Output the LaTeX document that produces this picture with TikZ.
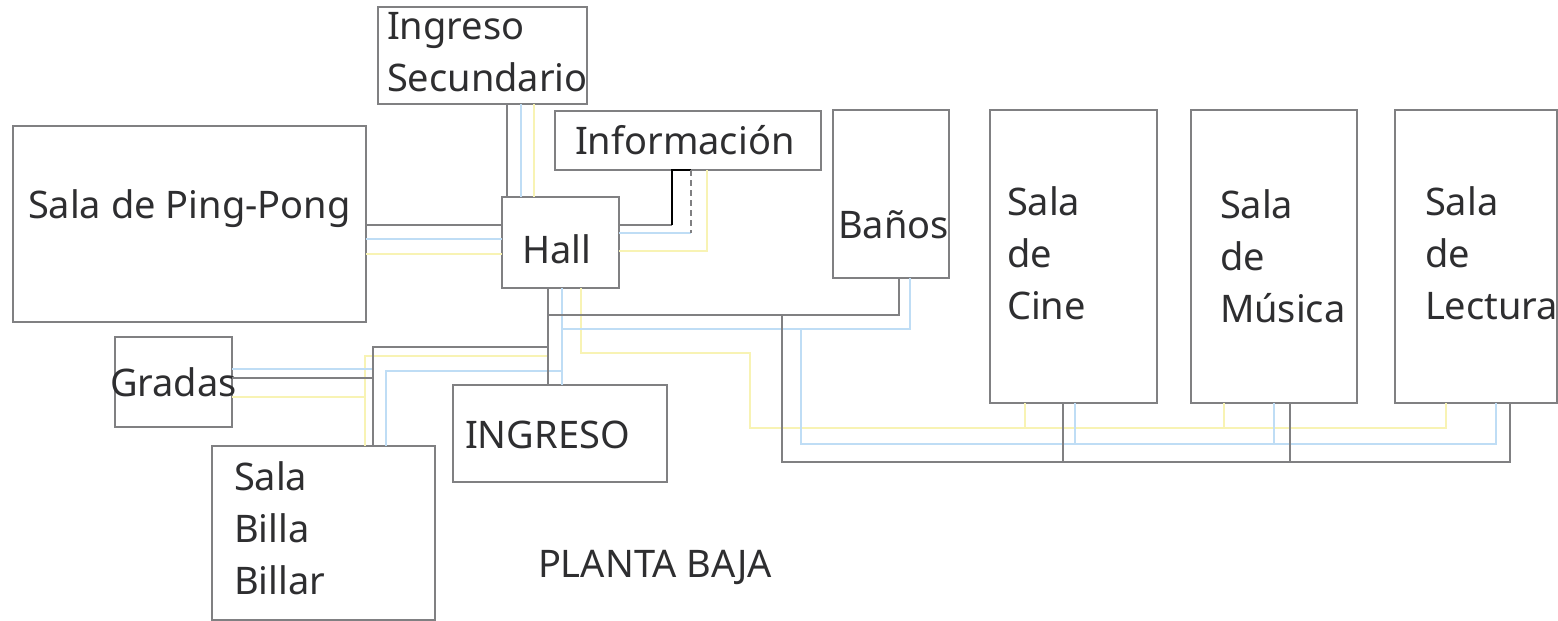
\documentclass[tikz,border=0pt]{standalone}
\usepackage{fontspec}
\setmainfont{Noto Sans}
\definecolor{wallgrey}{HTML}{808082}
\definecolor{inkgrey}{HTML}{2E2E30}
\definecolor{lineblue}{HTML}{BFDDF5}
\definecolor{lineyellow}{HTML}{F8F3B4}

\begin{document}
\begin{tikzpicture}[x=0.5pt,y=-0.5pt]
        \tikzstyle{room}=[draw=wallgrey,line width=1pt,inner sep=0pt,outer sep=0pt,anchor=north west]
        \tikzstyle{txt}=[inner sep=0pt,outer sep=0pt,anchor=base west,align=left,text=inkgrey,font=\fontsize{19}{26}\selectfont]
        \tikzstyle{grey}=[draw=wallgrey,line width=1.1pt]
        \tikzstyle{blue}=[draw=lineblue,line width=0.9pt]
        \tikzstyle{yellow}=[draw=lineyellow,line width=1pt]

        \useasboundingbox (0,0) rectangle (1558,621);

        %rooms
        \foreach \name/\x/\y/\w/\h in {secundario/378/7/209/97, informacion/555/111/266/59,
            banos/833/110/116/168, cine/990/110/167/293, musica/1191/110/166/293,
            lectura/1395/110/162/293, pingpong/13/126/353/196, hall/502/197/117/91,
            gradas/115/337/117/90, billar/212/446/223/174, ingreso/453/385/214/97} {
            \node [room,minimum width=\w*0.5pt,minimum height=\h*0.5pt] (\name) at (\x,\y) {};
        };

        %labels of the rooms
        \foreach \name/\x/\y/\t in {secundario/387/91/{Ingreso\\Secundario}, informacion/575/154/{Información},
            banos/838/238/{Baños}, cine/1007/319/{Sala\\de\\Cine}, musica/1220/322/{Sala\\de\\Música},
            lectura/1425/319/{Sala\\de\\Lectura}, pingpong/28/218/{Sala de Ping-Pong}, hall/522/263/{Hall},
            gradas/110/396/{Gradas}, billar/234/594/{Sala\\Billa\\Billar}, ingreso/465/448/{INGRESO}} {
            \node [txt] (\name_label) at (\x,\y) {\t};
        };
        \node [txt] (title) at (538,577) {PLANTA BAJA};

        %tracks the lines run along
        \coordinate (gmain) at (548,315);
        \coordinate (gdrop) at (782,315);
        \coordinate (gbath) at (899,315);
        \coordinate (gbase) at (782,462);
        \coordinate (gstep) at (373,347);
        \coordinate (bmain) at (562,329);
        \coordinate (bdrop) at (801,329);
        \coordinate (bbath) at (910,329);
        \coordinate (bbase) at (801,444);
        \coordinate (bstep) at (386,371);
        \coordinate (ymain) at (581,353);
        \coordinate (ydrop) at (750,353);
        \coordinate (ybase) at (750,428);
        \coordinate (ystep) at (365,356);
        \coordinate (ginfo) at (672,225);
        \coordinate (binfo) at (691,233);
        \coordinate (yinfo) at (707,251);

        %yellow
        \draw [yellow] (534,0 |- secundario.south) -- (534,0 |- hall.north);
        \draw [yellow] (pingpong.east |- 0,254) -- (hall.west |- 0,254);
        \draw [yellow] (hall.east |- yinfo) -- (yinfo) -- (yinfo |- informacion.south);
        \draw [yellow] (ymain |- hall.south) -- (ymain) -- (ydrop) -- (ybase) -- (1446,428) -- (1446,0 |- lectura.south);
        \draw [yellow] (1025,428) -- (1025,0 |- cine.south);
        \draw [yellow] (1224,428) -- (1224,0 |- musica.south);
        \draw [yellow] (gradas.east |- 0,397) -- (ystep |- 0,397);
        \draw [yellow] (billar.north -| ystep) -- (ystep) -- (gmain |- ystep);

        %blue
        \draw [blue] (521,0 |- secundario.south) -- (521,0 |- hall.north);
        \draw [blue] (pingpong.east |- 0,239) -- (hall.west |- 0,239);
        \draw [blue] (hall.east |- binfo) -- (binfo);
        \draw [blue] (bmain |- hall.south) -- (bmain |- ingreso.north);
        \draw [blue] (bmain) -- (bbath) -- (bbath |- banos.south);
        \draw [blue] (bdrop) -- (bbase) -- (1496,444) -- (1496,0 |- lectura.south);
        \draw [blue] (1075,444) -- (1075,0 |- cine.south);
        \draw [blue] (1274,444) -- (1274,0 |- musica.south);
        \draw [blue] (gradas.east |- 0,369) -- (gstep |- 0,369);
        \draw [blue] (billar.north -| bstep) -- (bstep) -- (bmain |- bstep);

        %grey
        \draw [grey] (507,0 |- secundario.south) -- (507,0 |- hall.north);
        \draw [grey] (pingpong.east |- 0,225) -- (hall.west |- 0,225);
        \draw [grey] (hall.east |- ginfo) -- (ginfo);
        \draw [grey] (gmain |- hall.south) -- (gmain |- ingreso.north);
        \draw [grey] (gmain) -- (gbath) -- (gbath |- banos.south);
        \draw [grey] (gdrop) -- (gbase) -- (1510,462) -- (1510,0 |- lectura.south);
        \draw [grey] (1063,462) -- (1063,0 |- cine.south);
        \draw [grey] (1290,462) -- (1290,0 |- musica.south);
        \draw [grey] (gradas.east |- 0,378) -- (gstep |- 0,378);
        \draw [grey] (billar.north -| gstep) -- (gstep) -- (gmain |- gstep);

        %the darker part below Información
        \draw [black,line width=1.1pt] (ginfo) -- (ginfo |- informacion.south) -- (binfo |- informacion.south);
        \draw [wallgrey,densely dashed,line width=0.6pt] (binfo |- informacion.south) -- (binfo);
\end{tikzpicture}
\end{document}
